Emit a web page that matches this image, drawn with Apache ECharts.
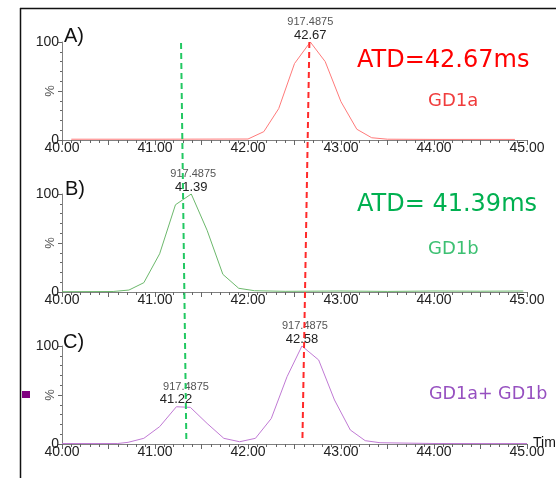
<!DOCTYPE html>
<html>
<head>
<meta charset="utf-8">
<script src="https://cdn.jsdelivr.net/npm/echarts@6/dist/echarts.min.js"></script>
<style>
  html, body { margin: 0; padding: 0; background: #fff; }
  #chart { width: 556px; height: 478px; }
</style>
</head>
<body>
<div id="chart"></div>
<script>
// drift time (ms) and relative intensity (%)
const timeA = [40.1, 41.0, 42.0, 42.17, 42.33, 42.5, 42.67, 42.83, 43.0, 43.17, 43.33, 43.5, 44.0, 44.87]
const intA = [0.8, 0.8, 1, 8.5, 32, 78, 100, 80, 39, 11, 2.3, 0.8, 0.6, 0.6]

const timeB = [40.0, 40.55, 40.72, 40.88, 41.05, 41.22, 41.39, 41.56, 41.73, 41.9, 42.07, 42.4, 43.0, 43.5, 44.0, 44.5, 44.96]
const intB = [0.3, 0.5, 2, 9.5, 39, 89, 100, 63, 18, 3.8, 1.3, 0.7, 1, 0.6, 1, 0.8, 1]

const timeC = [40.0, 40.6, 40.71, 40.88, 41.05, 41.23, 41.38, 41.56, 41.74, 41.91, 42.08, 42.25, 42.42, 42.58, 42.76, 42.93, 43.1, 43.26, 43.42, 44.0, 45.0]
const intC = [0.5, 0.5, 1.7, 5.8, 17.7, 38, 37.4, 21, 5.8, 2.3, 5.8, 26, 68.7, 100, 85.7, 44.9, 14.3, 3.4, 1.3, 0.5, 0.5]

// peak annotations: [time, intensity, label]
const peaksA = [[42.67, 100, '42.67']]
const peaksB = [[41.39, 100, '41.39']]
const peaksC = [[41.226, 38, '41.22'], [42.58, 100, '42.58']]
const massLabel = '917.4875'

const xTicks = [40, 41, 42, 43, 44, 45]
const yTicks = [0, 100]

const chart = echarts.init(document.getElementById('chart'))

const zip = (xs, ys) => xs.map((x, i) => [x, ys[i]])

const gridTops = [42, 194, 346]
const grids = gridTops.map((t) => ({ left: 62, top: t, width: 465, height: 98 }))

const xAxes = grids.map((g, i) => ({
  type: 'value',
  gridIndex: i,
  min: 40,
  max: 45,
  interval: 0.5,
  axisLine: { show: true, onZero: false, lineStyle: { color: '#808080', width: 1 } },
  axisTick: { show: true, length: 5, lineStyle: { color: '#666', width: 1 } },
  minorTick: { show: true, splitNumber: 5, length: 3, lineStyle: { color: '#666', width: 1 } },
  splitLine: { show: false },
  axisLabel: {
    margin: 1,
    fontFamily: 'Liberation Sans',
    fontSize: 14,
    color: '#222',
    formatter: (v) => (xTicks.some((t) => Math.abs(t - v) < 1e-6) ? v.toFixed(2) : '')
  }
}))

const yAxes = grids.map((g, i) => ({
  type: 'value',
  gridIndex: i,
  min: 0,
  max: 100,
  interval: 50,
  axisLine: { show: true, onZero: false, lineStyle: { color: '#808080', width: 1 } },
  axisTick: { show: true, length: 4, lineStyle: { color: '#666', width: 1 } },
  minorTick: { show: true, splitNumber: 5, length: 2, lineStyle: { color: '#666', width: 1 } },
  splitLine: { show: false },
  axisLabel: {
    margin: 3,
    fontFamily: 'Liberation Sans',
    fontSize: 14,
    color: '#222',
    formatter: (v) => (yTicks.includes(v) ? String(v) : '')
  }
}))

const peakMarks = (peaks, massOffsets) => ({
  symbol: 'circle',
  symbolSize: 1,
  itemStyle: { color: 'rgba(0,0,0,0)' },
  silent: true,
  data: peaks.flatMap((p, i) => [
    {
      coord: [p[0], p[1]],
      label: {
        show: true,
        position: 'top',
        distance: 0,
        formatter: p[2],
        fontFamily: 'Liberation Sans',
        fontSize: 13,
        color: '#222'
      }
    },
    {
      coord: [p[0], p[1]],
      label: {
        show: true,
        position: 'top',
        distance: 14,
        offset: [massOffsets[i], 0],
        formatter: massLabel,
        fontFamily: 'Liberation Sans',
        fontSize: 11,
        color: '#555'
      }
    }
  ])
})

const lineSeries = (i, data, color, marks) => ({
  type: 'line',
  xAxisIndex: i,
  yAxisIndex: i,
  data: data,
  symbol: 'none',
  smooth: false,
  lineStyle: { color: color, width: 1 },
  animation: false,
  markPoint: marks
})

chart.setOption({
  animation: false,
  grid: grids,
  xAxis: xAxes,
  yAxis: yAxes,
  series: [
    lineSeries(0, zip(timeA, intA), '#ff7a7a', peakMarks(peaksA, [0])),
    lineSeries(1, zip(timeB, intB), '#6cb86c', peakMarks(peaksB, [2])),
    lineSeries(2, zip(timeC, intC), '#c07ad4', peakMarks(peaksC, [10, 3]))
  ]
})

// dashed guide lines drawn through the panels, ends placed by data coords
const guide = (top, bottom, color) => {
  const p1 = chart.convertToPixel({ gridIndex: 0 }, top)
  const p2 = chart.convertToPixel({ gridIndex: 2 }, bottom)
  return {
    type: 'line',
    shape: { x1: p1[0], y1: p1[1], x2: p2[0], y2: p2[1] },
    style: { stroke: color, lineWidth: 2, lineDash: [6, 4] },
    z: 10
  }
}

// rotated "%" axis titles beside each y axis, at the 50% level
const pctLabels = grids.map((g, i) => {
  const p = chart.convertToPixel({ gridIndex: i }, [40, 50])
  return {
    type: 'text',
    x: p[0] - 12,
    y: p[1],
    rotation: Math.PI / 2,
    style: {
      text: '%',
      fontSize: 13,
      fontFamily: 'Liberation Sans',
      fill: '#555',
      align: 'center',
      verticalAlign: 'middle'
    }
  }
})

const txt = (x, y, text, size, color, font) => ({
  type: 'text',
  x: x,
  y: y,
  style: {
    text: text,
    fontSize: size,
    fontFamily: font || 'DejaVu Sans',
    fill: color,
    align: 'left',
    verticalAlign: 'middle'
  }
})

chart.setOption({
  graphic: [
    { type: 'line', shape: { x1: 20, y1: 8.5, x2: 556, y2: 8.5 }, style: { stroke: '#111', lineWidth: 1.5 } },
    { type: 'line', shape: { x1: 20.5, y1: 8, x2: 20.5, y2: 478 }, style: { stroke: '#111', lineWidth: 1.5 } },
    guide([41.28, 99], [41.337, 3], '#22c862'),
    guide([42.66, 100], [42.585, 3], '#ff2a2a'),
    ...pctLabels,
    txt(64, 36, 'A)', 20, '#111', 'Liberation Sans'),
    txt(65, 189, 'B)', 20, '#111', 'Liberation Sans'),
    txt(63, 342, 'C)', 20, '#111', 'Liberation Sans'),
    txt(357, 61, 'ATD=42.67ms', 24, '#ff0000'),
    txt(428, 101, 'GD1a', 18, '#f03c3c'),
    txt(357, 205, 'ATD= 41.39ms', 24, '#00b050'),
    txt(428, 249, 'GD1b', 18, '#3cc072'),
    txt(429, 394, 'GD1a+ GD1b', 17.5, '#9650c0'),
    txt(533, 443, 'Tim', 14, '#111', 'Liberation Sans'),
    { type: 'rect', shape: { x: 22, y: 391, width: 8, height: 7 }, style: { fill: '#800080' } }
  ]
})
</script>
</body>
</html>
